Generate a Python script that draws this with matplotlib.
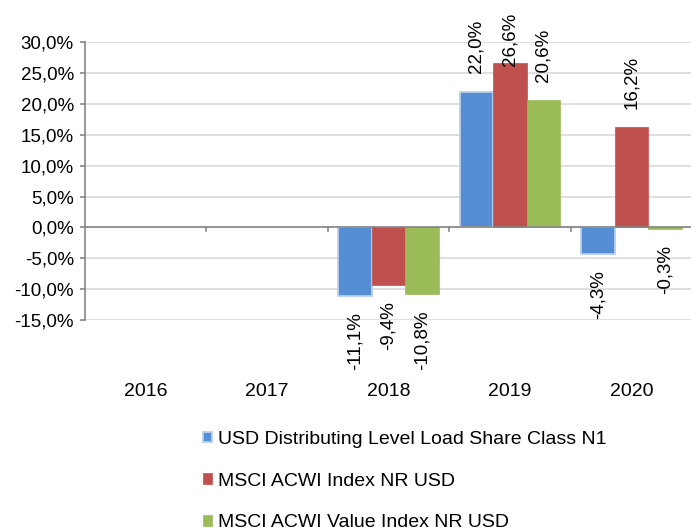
import matplotlib
matplotlib.use("Agg")
import matplotlib.pyplot as plt
import numpy as np

categories = ["2016", "2017", "2018", "2019", "2020"]
series_names = ["USD Distributing Level Load Share Class N1",
                "MSCI ACWI Index NR USD",
                "MSCI ACWI Value Index NR USD"]
fund = [np.nan, np.nan, -11.1, 22.0, -4.3]
acwi = [np.nan, np.nan, -9.4, 26.6, 16.2]
value = [np.nan, np.nan, -10.8, 20.6, -0.3]
yticks = [-15, -10, -5, 0, 5, 10, 15, 20, 25, 30]

colors = ["#558ED5", "#C0504D", "#9BBB59"]
edges = ["#B9D0EE", "#E6A5A3", "#C9DBA6"]

plt.rcParams['font.family'] = ['Liberation Sans', 'DejaVu Sans']
W, H = 691, 529
fig = plt.figure(figsize=(W / 100, H / 100), dpi=100)
ax = fig.add_axes([85 / W, (H - 320) / H, 607 / W, (320 - 42.3) / H])

x = np.arange(len(categories))
w = 0.276
allseries = [fund, acwi, value]
pos_labels = []
for i, (vals, c, e, name) in enumerate(zip(allseries, colors, edges, series_names)):
    pos = x + (i - 1) * w
    ax.bar(pos, vals, width=w, color=c, edgecolor=e if i == 0 else c,
           linewidth=1.3 if i == 0 else 0.5, label=name, zorder=3)
    for p, v in zip(pos, vals):
        if np.isnan(v):
            continue
        s = f"{v:.1f}%".replace(".", ",")
        if v >= 0:
            t = ax.annotate(s, (p, v), xytext=(0, 13.5), textcoords="offset points",
                            rotation=90, ha="center", va="bottom", fontsize=13.5,
                            color="black", zorder=5)
            pos_labels.append(t)
        else:
            ax.annotate(s, (p, v), xytext=(0, -11.5), textcoords="offset points",
                        rotation=90, ha="center", va="top", fontsize=13.5,
                        color="black", zorder=5)

ax.set_ylim(-15, 30)
ax.set_xlim(-0.5, len(categories) - 0.5)
ax.set_yticks(yticks)
ax.set_yticklabels([f"{t:.1f}%".replace(".", ",") for t in yticks], fontsize=13.5)
ax.yaxis.grid(True, color="#D9D9D9", linewidth=1.2, zorder=0)
ax.set_axisbelow(True)
for sp in ["top", "right", "bottom"]:
    ax.spines[sp].set_visible(False)
ax.spines["left"].set_color("#868686")
ax.spines["left"].set_linewidth(1.2)
ax.tick_params(axis="y", direction="out", length=3.6, width=1.2, color="#868686", pad=4.5)
ax.set_xticks(x)
ax.set_xticklabels(categories, fontsize=14)
ax.tick_params(axis="x", length=0, pad=45)
ax.axhline(0, color="#868686", linewidth=1.2, zorder=4)
for b in np.arange(0.5, len(categories) - 0.5, 1.0):
    ax.plot([b, b], [0, -0.6], color="#868686", linewidth=1.2, zorder=4, clip_on=False)

leg = fig.legend(loc="upper left", bbox_to_anchor=(203 / W, 1 - 431 / H), frameon=False,
                 fontsize=14, handlelength=0.47, handleheight=0.47, handletextpad=0.28,
                 labelspacing=1.27, borderaxespad=0, borderpad=0)

# keep positive labels inside the chart area (like the source chart)
fig.canvas.draw()
r = fig.canvas.get_renderer()
top_limit = H - 13
for t in pos_labels:
    bb = t.get_window_extent(r)
    if bb.y1 > top_limit:
        dx, dy = t.xyann
        t.xyann = (dx, dy - (bb.y1 - top_limit) * 72 / 100)

fig.savefig("out.png", dpi=100)
